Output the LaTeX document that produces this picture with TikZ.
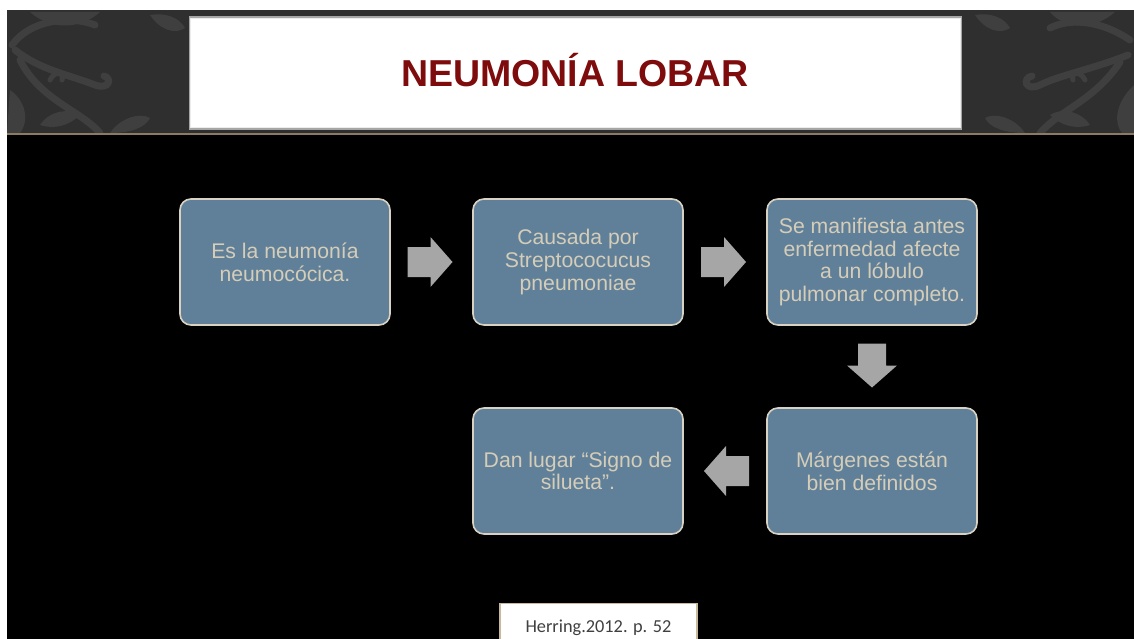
\documentclass[tikz,border=0pt]{standalone}
\usepackage{fontspec}
\setmainfont{Liberation Sans}
\newfontfamily\calibri{Carlito}
\usetikzlibrary{calc}
\definecolor{band}{HTML}{2F2F2F}
\definecolor{flour}{HTML}{3F3F3F}
\definecolor{tanline}{HTML}{8C7B62}
\definecolor{titlered}{HTML}{7E0C0C}
\definecolor{boxfill}{HTML}{60809A}
\definecolor{boxline}{HTML}{D9D2C3}
\definecolor{boxtext}{HTML}{D5CDB8}
\definecolor{arrowfill}{HTML}{A6A6A6}
\definecolor{citeline}{HTML}{C8B89E}
\definecolor{citetext}{HTML}{404040}
\tikzset{
  stepbox/.style={draw=boxline, line width=1.6pt, fill=boxfill, rounded corners=11pt,
    minimum width=210pt, minimum height=126pt, align=center, text=boxtext,
    font=\fontsize{21.2}{22.8}\selectfont, inner sep=0pt},
  flourish/.style={draw=flour, line width=7pt, line cap=round},
  leaf/.style={fill=flour},
  rarrow/.pic={\fill[arrowfill] (-24,-15) -- (-1,-15) -- (-1,-25) -- (21,0) -- (-1,25) -- (-1,15) -- (-24,15) -- cycle;},
  larrow/.pic={\fill[arrowfill] (24,-15) -- (1,-15) -- (1,-25) -- (-21,0) -- (1,25) -- (1,15) -- (24,15) -- cycle;},
  darrow/.pic={\fill[arrowfill] (-14,-23) -- (-14,-1) -- (-25,-1) -- (0,21) -- (25,-1) -- (14,-1) -- (14,-23) -- cycle;}
}
\begin{document}
\begin{tikzpicture}[x=1pt,y=-1pt]
\useasboundingbox (0,0) rectangle (1134,639);
\fill[white] (0,0) rectangle (1134,639);
% header band
\fill[band] (7,10) rectangle (1134,133);
\begin{scope}
\clip (7,10) rectangle (1134,133);
% left damask
\draw[flourish] (12,45) .. controls (30,20) and (70,15) .. (95,25);
\draw[flourish] (15,50) .. controls (40,70) and (70,75) .. (95,85) .. controls (110,90) and (112,78) .. (104,76);
\draw[flourish] (20,60) .. controls (40,100) and (80,110) .. (100,133);
\fill[leaf] (30,12) .. controls (50,30) and (80,30) .. (100,12) -- cycle;
\fill[leaf] (150,15) .. controls (160,30) and (175,35) .. (185,28) .. controls (180,18) and (165,12) .. (150,15) -- cycle;
\fill[leaf] (10,90) .. controls (25,100) and (30,120) .. (20,133) -- (7,133) -- cycle;
\fill[leaf] (110,133) .. controls (120,118) and (140,112) .. (150,118) .. controls (145,128) and (130,133) .. (110,133) -- cycle;
\fill[leaf] (40,125) .. controls (50,110) and (70,108) .. (80,115) .. controls (70,125) and (55,130) .. (40,125) -- cycle;
\draw[flourish, line width=5pt] (50,80) .. controls (55,70) and (65,72) .. (62,80);
% right damask
\draw[flourish] (1130,40) .. controls (1100,20) and (1070,18) .. (1050,28);
\draw[flourish] (1128,55) .. controls (1090,70) and (1060,75) .. (1040,85) .. controls (1025,92) and (1022,78) .. (1032,76);
\draw[flourish] (1120,62) .. controls (1095,100) and (1060,110) .. (1040,133);
\fill[leaf] (1050,12) .. controls (1065,30) and (1095,30) .. (1115,12) -- cycle;
\fill[leaf] (975,15) .. controls (985,30) and (1000,35) .. (1010,28) .. controls (1005,18) and (990,12) .. (975,15) -- cycle;
\fill[leaf] (1134,85) .. controls (1118,100) and (1112,120) .. (1122,133) -- (1134,133) -- cycle;
\fill[leaf] (1025,133) .. controls (1015,118) and (995,112) .. (985,118) .. controls (990,128) and (1005,133) .. (1025,133) -- cycle;
\fill[leaf] (1090,125) .. controls (1080,110) and (1060,108) .. (1050,115) .. controls (1060,125) and (1075,130) .. (1090,125) -- cycle;
\draw[flourish, line width=5pt] (1085,80) .. controls (1080,70) and (1070,72) .. (1073,80);
\end{scope}
\fill[tanline] (7,133) rectangle (1134,135.5);
\fill[black] (7,135.5) rectangle (1134,639);
% title box
\node[draw=gray!70, line width=2.5pt, fill=white, minimum width=771pt, minimum height=111pt,
  inner sep=0pt] (titlebox) at (575.5,73) {};
\draw[white!85!gray, line width=0.8pt] ($(titlebox.north west)+(2,2)$) rectangle ($(titlebox.south east)+(-2,-2)$);
\node[anchor=base, inner sep=0pt, text=titlered, font=\fontsize{37.5}{40}\selectfont\bfseries] (title) at (575,87) {NEUMONÍA LOBAR};
% step boxes
\node[stepbox] (b1) at (285,262) {Es la neumonía\\neumocócica.};
\node[stepbox] (b2) at (578,262) {Causada por\\Streptococucus\\pneumoniae};
\node[stepbox] (b3) at (872,262) {Se manifiesta antes\\enfermedad afecte\\a un lóbulo\\pulmonar completo.};
\node[stepbox] (b4) at (872,471) {Márgenes están\\bien definidos};
\node[stepbox] (b5) at (578,471) {Dan lugar “Signo de\\silueta”.};
% block arrows
\coordinate (a12) at ($(b1.east)!0.5!(b2.west)$);
\coordinate (a23) at ($(b2.east)!0.5!(b3.west)$);
\coordinate (a34) at ($(b3.south)!0.5!(b4.north)$);
\coordinate (a45) at ($(b4.west)!0.5!(b5.east)$);
\pic at (a12) {rarrow};
\pic at (a23) {rarrow};
\pic at (a34) {darrow};
\pic at (a45) {larrow};
% citation
\begin{scope}
\clip (0,0) rectangle (1134,639);
\draw[citeline, line width=1.2pt, fill=white] (500,603.5) rectangle (697,650);
\end{scope}
\node[anchor=base, text=citetext, font=\calibri\fontsize{18.3}{20}\selectfont] (cite) at (598.5,632) {Herring.2012. p. 52};
\end{tikzpicture}
\end{document}
